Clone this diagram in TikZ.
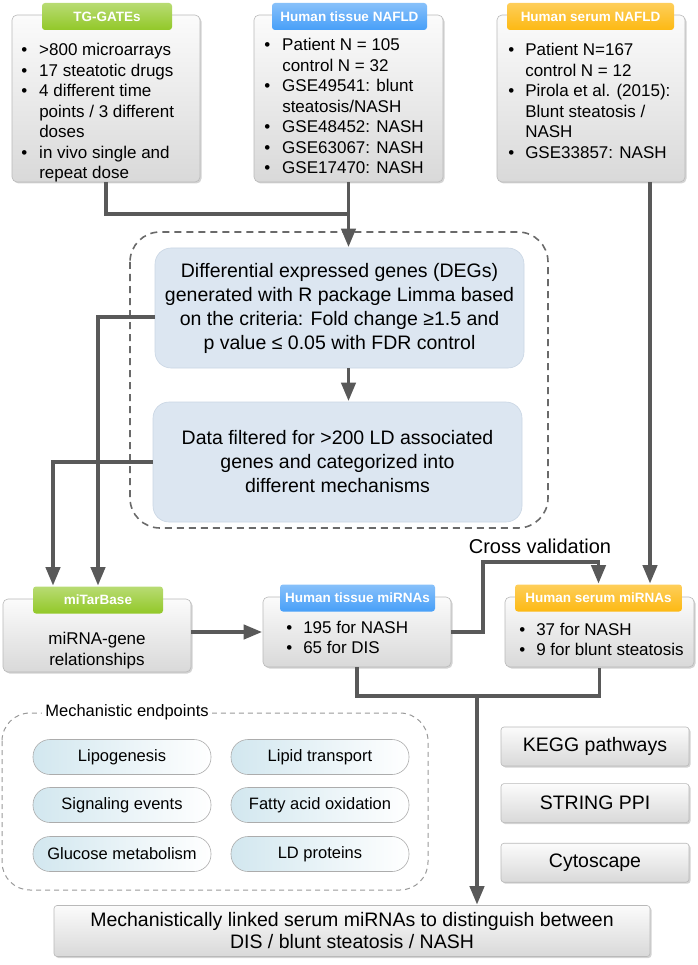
\documentclass[tikz,border=0pt]{standalone}
\usepackage{fontspec}
\setmainfont{Liberation Sans}
\usepackage{tikz}
\usetikzlibrary{arrows, shadows}
\usetikzlibrary{positioning}
\definecolor{tabgreen}{HTML}{92C828}
\definecolor{tabblue}{HTML}{479FF8}
\definecolor{taborange}{HTML}{FDB913}
\definecolor{stagefill}{HTML}{DCE6F1}
\definecolor{stageline}{HTML}{C9D5E3}
\definecolor{pillblue}{HTML}{D2E7EF}
\definecolor{linegray}{HTML}{595959}
\tikzset{panel/.style={draw=gray!55,rounded corners=5pt,top color=gray!3,bottom color=gray!30,
  drop shadow={shadow xshift=1.5pt,shadow yshift=-1.5pt,opacity=0.35}}}
\tikzset{tab/.style={rounded corners=3pt,text=white,font=\bfseries\fontsize{13.5}{16}\selectfont,minimum height=27pt,inner sep=0pt}}
\tikzset{greentab/.style={tab,top color=tabgreen!65!white,bottom color=tabgreen}}
\tikzset{bluetab/.style={tab,top color=tabblue!65!white,bottom color=tabblue}}
\tikzset{orangetab/.style={tab,top color=taborange!70!white,bottom color=taborange}}
\tikzset{stage/.style={draw=stageline,fill=stagefill,rounded corners=16pt,align=center,
  minimum width=369pt,minimum height=120pt,font=\fontsize{19.5}{24}\selectfont}}
\tikzset{pill/.style={draw=gray!65,rounded corners=17pt,left color=pillblue,right color=white,
  minimum width=178pt,minimum height=35pt,font=\fontsize{16.5}{20}\selectfont}}
\tikzset{tool/.style={panel,rounded corners=3pt,minimum width=188pt,minimum height=39pt,font=\fontsize{19.5}{24}\selectfont}}
\tikzset{link/.style={draw=linegray,line width=3.3pt}}
\tikzset{bullets/.style={anchor=base west,inner sep=0pt,font=\fontsize{17}{20.5}\selectfont}}

\begin{document}
\begin{tikzpicture}[
x = 1pt, y = -1pt, % pixel grid of the figure
> = triangle 45, % arrow head style
shorten > = 1pt,
semithick
]
\useasboundingbox (0,0) rectangle (697,965);

% data sources
\node[panel,minimum width=188pt,minimum height=167pt] (tg) at (106,98.5) {};
\node[greentab,minimum width=130pt] (tgtab) at (107,16.5) {TG-GATEs};
\node[bullets] (tgtxt) at (21,56) {\begin{tabular}[t]{@{}l@{\hspace{12pt}}l@{}}
\textbullet & >800 microarrays\\
\textbullet & 17 steatotic drugs\\
\textbullet & 4 different time\\
 & points / 3 different\\
 & doses\\
\textbullet & in vivo single and\\
 & repeat dose
\end{tabular}};

\node[panel,minimum width=189pt,minimum height=167pt] (tissue) at (348.5,98.5) {};
\node[bluetab,minimum width=155pt] (tissuetab) at (349.5,16.5) {Human tissue NAFLD};
\node[bullets] (tissuetxt) at (264,51) {\begin{tabular}[t]{@{}l@{\hspace{12pt}}l@{}}
\textbullet & Patient N = 105\\
 & control N = 32\\
\textbullet & GSE49541: blunt\\
 & steatosis/NASH\\
\textbullet & GSE48452: NASH\\
\textbullet & GSE63067: NASH\\
\textbullet & GSE17470: NASH
\end{tabular}};

\node[panel,minimum width=188pt,minimum height=167pt] (serum) at (591,98.5) {};
\node[orangetab,minimum width=167pt] (serumtab) at (590.5,16.5) {Human serum NAFLD};
\node[bullets] (serumtxt) at (508,56) {\begin{tabular}[t]{@{}l@{\hspace{11pt}}l@{}}
\textbullet & Patient N=167\\
 & control N = 12\\
\textbullet & Pirola et al. (2015):\\
 & Blunt steatosis /\\
 & NASH\\
\textbullet & GSE33857: NASH
\end{tabular}};

% DEG analysis
\draw[linegray!90,dash pattern=on 7pt off 5pt,line width=1.6pt,rounded corners=30pt] (130,232) rectangle (548,528);
\node[stage] (deg) at (339.5,308) {Differential expressed genes (DEGs)\\generated with R package Limma based\\on the criteria: Fold change ≥1.5 and\\p value ≤ 0.05 with FDR control};
\node[stage] (data) at (337.5,462) {Data filtered for >200 LD associated\\genes and categorized into\\different mechanisms};

% miRNA level
\node[panel,minimum width=188pt,minimum height=73pt] (mitar) at (97,635.5) {};
\node[greentab,minimum width=130pt] (mitartab) at (98,600) {miTarBase};
\node[align=center,font=\fontsize{17}{21}\selectfont] (mitartxt) at (97,651) {miRNA-gene\\relationships};

\node[panel,minimum width=188pt,minimum height=70pt] (tismir) at (357,632) {};
\node[bluetab,minimum width=155pt] (tismirtab) at (357.5,598) {Human tissue miRNAs};
\node[bullets] (tismirtxt) at (286,633) {\begin{tabular}[t]{@{}l@{\hspace{11pt}}l@{}}
\textbullet & 195 for NASH\\
\textbullet & 65 for DIS
\end{tabular}};

\node[panel,minimum width=189pt,minimum height=70pt] (sermir) at (599.5,632) {};
\node[orangetab,minimum width=167pt] (sermirtab) at (598.5,598) {Human serum miRNAs};
\node[bullets] (sermirtxt) at (519,635) {\begin{tabular}[t]{@{}l@{\hspace{11pt}}l@{}}
\textbullet & 37 for NASH\\
\textbullet & 9 for blunt steatosis
\end{tabular}};

\node[font=\fontsize{20}{23}\selectfont] (cvlabel) at (540,546) {Cross validation};

% mechanistic endpoints
\draw[gray!80,dash pattern=on 5pt off 4pt,line width=1pt,rounded corners=28pt] (2,713) rectangle (428,890);
\node[fill=white,inner sep=3pt,font=\fontsize{16.5}{20}\selectfont] (mechlabel) at (127,712) {Mechanistic endpoints};
\node[pill] (lipo) at (122,757) {Lipogenesis};
\node[pill] (transp) at (320,757) {Lipid transport};
\node[pill] (signal) at (122,805) {Signaling events};
\node[pill] (fatty) at (320,805) {Fatty acid oxidation};
\node[pill] (gluc) at (122,854) {Glucose metabolism};
\node[pill] (ldprot) at (320,854) {LD proteins};

% tools
\node[tool] (kegg) at (595,746.5) {KEGG pathways};
\node[tool,below=17pt of kegg] (string) {STRING PPI};
\node[tool,below=20pt of string] (cyto) {Cytoscape};

\node[panel,rounded corners=3pt,minimum width=596pt,minimum height=51pt,align=center,
  font=\fontsize{19.5}{22}\selectfont] (final) at (352,931) {Mechanistically linked serum miRNAs to distinguish between\\DIS / blunt steatosis / NASH};

% connectors
\coordinate (merge) at (tissue.south |- 0,214);
\coordinate (cv) at (483,562);
\coordinate (join) at (477,696);
\draw[link] (tg.south) |- (merge);
\draw[link,->] (tissue.south) -- (tissue.south |- deg.north);
\draw[link,->] (deg.south -| tissue.south) -- (data.north -| tissue.south);
\draw[link,->] ([yshift=-9pt]deg.west) -| (mitartab.north);
\draw[link,->] (data.west) -| ([xshift=-45pt]mitartab.north);
\draw[link,->] (mitar.east |- tismir.west) -- (tismir.west);
\draw[link,->] (tismir.east) -| (cv) -| (sermirtab.north);
\draw[link,->] ([xshift=59pt]serum.south) -- ([xshift=59pt]serum.south |- sermirtab.north);
\draw[link] (tismir.south) |- (join) -| (sermir.south);
\draw[link,->] (join) -- (join |- final.north);
\end{tikzpicture}
\end{document}
